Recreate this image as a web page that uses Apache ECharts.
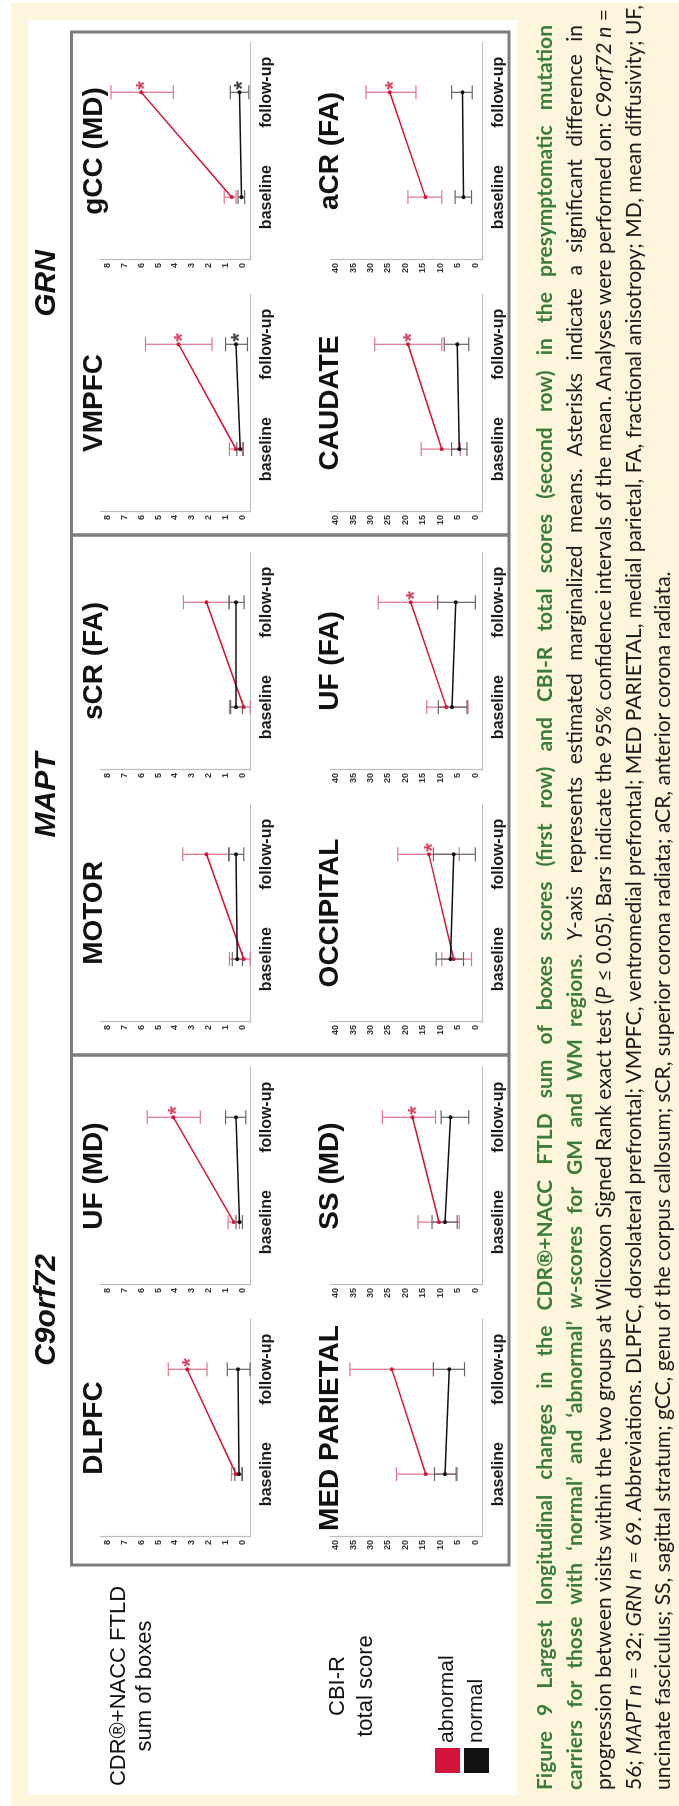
<!DOCTYPE html>
<html>
<head>
<meta charset="utf-8">
<script src="https://cdn.jsdelivr.net/npm/echarts@6/dist/echarts.min.js"></script>
<style>
html, body { margin:0; padding:0; width:679px; height:1806px; overflow:hidden; background:#fff; }
#page { position:absolute; left:0; top:0; width:1806px; height:679px; transform-origin:0 0; transform:translate(0px,1806px) rotate(-90deg); }
#cream { position:absolute; left:0; top:11px; width:1803px; height:668px; background:#fdf6dc; }
#paper { position:absolute; left:11px; top:28px; width:1775px; height:489px; background:#fff; }
#main { position:absolute; left:0; top:0; width:1806px; height:679px; }
#caption { position:absolute; left:16px; top:529px; width:1765px; font-family:Lato, "Open Sans", sans-serif; font-size:21px; line-height:29.5px; color:#1a1a1a; }
#caption div { white-space:nowrap; text-align:justify; text-align-last:justify; }
#caption div.last { text-align-last:left; }
#caption .g { color:#3a7d3b; font-weight:bold; }
</style>
</head>
<body>
<div id="page">
  <div id="cream"></div>
  <div id="paper"></div>
  <div id="main"></div>
  <div id="caption">
    <div><span class="g">Figure 9 Largest longitudinal changes in the CDR®+NACC FTLD sum of boxes scores (first row) and CBI-R total scores (second row) in the presymptomatic mutation</span></div>
    <div><span class="g">carriers for those with ‘normal’ and ‘abnormal’ <i>w</i>-scores for GM and WM regions.</span> <i>Y</i>-axis represents estimated marginalized means. Asterisks indicate a significant difference in</div>
    <div>progression between visits within the two groups at Wilcoxon Signed Rank exact test (<i>P</i> ≤ 0.05). Bars indicate the 95% confidence intervals of the mean. Analyses were performed on: <i>C9orf72 n</i> =</div>
    <div>56; <i>MAPT n</i> = 32; <i>GRN n</i> = 69. Abbreviations. DLPFC, dorsolateral prefrontal; VMPFC, ventromedial prefrontal; MED PARIETAL, medial parietal, FA, fractional anisotropy; MD, mean diffusivity; UF,</div>
    <div class="last">uncinate fasciculus; SS, sagittal stratum; gCC, genu of the corpus callosum; sCR, superior corona radiata; aCR, anterior corona radiata.</div>
  </div>
</div>
<script>
var genes = ['C9orf72', 'MAPT', 'GRN'];
var visits = ['baseline', 'follow-up'];
var cdrTitles = ['DLPFC', 'UF (MD)', 'MOTOR', 'sCR (FA)', 'VMPFC', 'gCC (MD)'];
var cbiTitles = ['MED PARIETAL', 'SS (MD)', 'OCCIPITAL', 'UF (FA)', 'CAUDATE', 'aCR (FA)'];
var cdrTicks = [0, 1, 2, 3, 4, 5, 6, 7, 8];
var cbiTicks = [0, 5, 10, 15, 20, 25, 30, 35, 40];

// estimated marginal means, [baseline, follow-up]
var cdrAbnormal = [[0.38, 3.28], [0.51, 4.1], [-0.08, 2.13], [-0.08, 2.13], [0.38, 3.79], [0.64, 6.0]];
var cdrNormal   = [[0.2, 0.26], [0.18, 0.38], [0.31, 0.38], [0.38, 0.38], [0.13, 0.38], [0.05, 0.18]];
var cbiAbnormal = [[14.2, 23.9], [10.4, 18.0], [6.2, 13.3], [8.3, 18.5], [9.6, 19.3], [14.3, 24.5]];
var cbiNormal   = [[8.7, 7.5], [8.7, 7.1], [7.1, 6.2], [6.7, 5.6], [4.6, 5.2], [3.4, 3.7]];

// 95% CI, [[lo, hi] baseline, [lo, hi] follow-up]
var cdrAbnormalCI = [[[0.05, 0.65], [2.1, 4.4]], [[0.18, 0.85], [2.5, 5.65]], [[-0.46, 0.77], [0.77, 3.54]],
                     [[-0.46, 0.77], [0.77, 3.5]], [[0.0, 0.77], [1.8, 5.75]], [[0.38, 1.08], [4.1, 7.8]]];
var cdrNormalCI   = [[[0.0, 0.45], [-0.45, 0.9]], [[0.0, 0.38], [-0.2, 1.0]], [[0.0, 0.6], [-0.08, 0.82]],
                     [[0.0, 0.7], [-0.1, 0.8]], [[-0.05, 0.33], [-0.3, 1.0]], [[-0.13, 0.26], [-0.38, 0.72]]];
var cbiAbnormalCI = [[[5.2, 22.6], [12.0, 35.9]], [[4.6, 16.4], [11.4, 26.6]], [[1.1, 9.6], [4.6, 22.2]],
                     [[2.1, 13.9], [10.8, 27.8]], [[4.3, 15.5], [9.6, 28.8]], [[9.6, 19.3], [17.0, 31.3]]];
var cbiNormalCI   = [[[5.5, 11.7], [3.1, 12.0]], [[5.2, 12.4], [1.9, 9.8]], [[3.4, 11.2], [0, 12.0]],
                     [[2.4, 10.6], [0, 10.8]], [[2.4, 6.8], [1.9, 8.9]], [[1.1, 5.8], [0.9, 6.8]]];

// significant change at follow-up: [abnormal, normal]
var cdrStars = [[1, 0], [1, 0], [0, 0], [0, 0], [1, 1], [1, 1]];
var cbiStars = [[0, 0], [1, 0], [1, 0], [1, 0], [1, 0], [1, 0]];

var RED = '#d4143a', RED_CI = '#e0738b', BLACK = '#111', GREY_CI = '#666';
var FONT = '"Liberation Sans", Arial, sans-serif';

// layout of the unrotated (landscape) figure
var plotLeft = [269, 521, 784, 1036, 1294, 1546];
var plotWidth = 218;
var rowTop = [100, 330], rowHeight = [150, 152];
var rowRange = [[-0.45, 8.45], [-1.9, 41.6]];
var boxes = [[241, 751], [751, 1271], [1271, 1774]];

var chart = echarts.init(document.getElementById('main'), null, {width: 1806, height: 679});

function ciSeries(g, ci, color) {
    return {
        type: 'custom', xAxisIndex: g, yAxisIndex: g, z: 2, silent: true,
        data: ci.map(function (d, i) { return [i, d[0], d[1]]; }),
        renderItem: function (params, api) {
            var lo = api.coord([api.value(0), api.value(1)]);
            var hi = api.coord([api.value(0), api.value(2)]);
            var w = 7;
            var st = {stroke: color, lineWidth: 1.2};
            return {type: 'group', children: [
                {type: 'line', shape: {x1: lo[0], y1: lo[1], x2: hi[0], y2: hi[1]}, style: st},
                {type: 'line', shape: {x1: lo[0] - w, y1: lo[1], x2: lo[0] + w, y2: lo[1]}, style: st},
                {type: 'line', shape: {x1: hi[0] - w, y1: hi[1], x2: hi[0] + w, y2: hi[1]}, style: st}
            ]};
        }
    };
}

function meanSeries(g, name, means, color) {
    return {
        name: name, type: 'line', xAxisIndex: g, yAxisIndex: g, z: 3, silent: true,
        data: means.map(function (v, i) { return [i, v]; }),
        symbol: 'circle', symbolSize: 4, color: color,
        lineStyle: {width: 1.5, color: color}
    };
}

function starSeries(g, value, color) {
    return {
        type: 'scatter', xAxisIndex: g, yAxisIndex: g, z: 4, silent: true,
        data: [[1, value]], symbolSize: 1,
        itemStyle: {color: 'rgba(0,0,0,0)'},
        label: {show: true, formatter: '*', position: 'right', distance: 2, offset: [0, 4],
                fontSize: 22, fontWeight: 'bold', color: color, fontFamily: FONT}
    };
}

var grid = [], xAxis = [], yAxis = [], series = [], graphic = [];

[0, 1].forEach(function (r) {
    var titles = r === 0 ? cdrTitles : cbiTitles;
    var ticks = r === 0 ? cdrTicks : cbiTicks;
    var abn = r === 0 ? cdrAbnormal : cbiAbnormal;
    var nor = r === 0 ? cdrNormal : cbiNormal;
    var abnCI = r === 0 ? cdrAbnormalCI : cbiAbnormalCI;
    var norCI = r === 0 ? cdrNormalCI : cbiNormalCI;
    var stars = r === 0 ? cdrStars : cbiStars;
    for (var c = 0; c < 6; c++) {
        var g = r * 6 + c;
        grid.push({left: plotLeft[c], top: rowTop[r], width: plotWidth, height: rowHeight[r]});
        xAxis.push({
            gridIndex: g, type: 'value', min: -0.6, max: 1.48,
            axisLine: {show: true, onZero: false, lineStyle: {color: '#bdbdbd', width: 1.2}},
            axisTick: {show: false}, splitLine: {show: false},
            axisLabel: {customValues: [0, 1], formatter: function (v) { return visits[Math.round(v)]; },
                        fontSize: 16, fontWeight: 'bold', color: '#1a1a1a', margin: 9, fontFamily: FONT}
        });
        yAxis.push({
            gridIndex: g, type: 'value', min: rowRange[r][0], max: rowRange[r][1],
            axisLine: {show: true, onZero: false, lineStyle: {color: '#bdbdbd', width: 1.2}},
            axisTick: {show: false}, splitLine: {show: false},
            axisLabel: {customValues: ticks, fontSize: 9, fontWeight: 'bold', color: '#333', margin: 3, fontFamily: FONT}
        });
        series.push(ciSeries(g, abnCI[c], RED_CI));
        series.push(ciSeries(g, norCI[c], GREY_CI));
        series.push(meanSeries(g, 'abnormal', abn[c], RED));
        series.push(meanSeries(g, 'normal', nor[c], BLACK));
        if (stars[c][0]) series.push(starSeries(g, abn[c][1], RED));
        if (stars[c][1]) series.push(starSeries(g, nor[c][1], BLACK));
        graphic.push({type: 'text', x: plotLeft[c] + plotWidth / 2, y: r === 0 ? 94 : 330, z: 10,
            style: {text: titles[c], font: 'bold 28px ' + FONT, fill: '#111', align: 'center', verticalAlign: 'middle'}});
    }
});

boxes.forEach(function (b, i) {
    graphic.push({type: 'rect', shape: {x: b[0], y: 71.5, width: b[1] - b[0], height: 437.5},
        style: {fill: 'none', stroke: '#7d7d7d', lineWidth: 3}});
    graphic.push({type: 'text', x: (b[0] + b[1]) / 2, y: 47,
        style: {text: genes[i], font: 'italic bold 30px ' + FONT, fill: '#111', align: 'center', verticalAlign: 'middle'}});
});

[['CDR®+NACC FTLD', 119], ['sum of boxes', 145], ['CBI-R', 338], ['total score', 366]].forEach(function (t) {
    graphic.push({type: 'text', x: 120, y: t[1],
        style: {text: t[0], font: '22px ' + FONT, fill: '#111', align: 'center', verticalAlign: 'middle'}});
});

chart.setOption({
    animation: false,
    legend: {
        data: [{name: 'abnormal', icon: 'rect'}, {name: 'normal', icon: 'rect'}],
        orient: 'vertical', left: 28, top: 430, itemWidth: 25, itemHeight: 25, itemGap: 4,
        selectedMode: false, textStyle: {fontSize: 21, color: '#111', fontFamily: FONT}
    },
    grid: grid,
    xAxis: xAxis,
    yAxis: yAxis,
    series: series,
    graphic: graphic
});
</script>
</body>
</html>
